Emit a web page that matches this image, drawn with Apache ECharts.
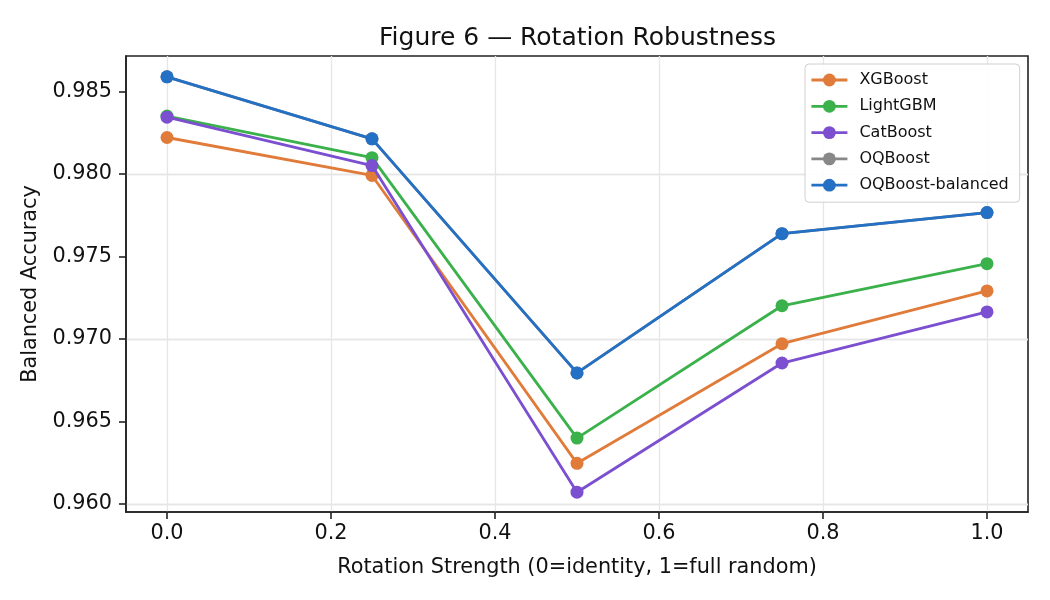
<!DOCTYPE html>
<html>
<head>
<meta charset="utf-8">
<script src="https://cdn.jsdelivr.net/npm/echarts@6/dist/echarts.min.js"></script>
<style>html,body{margin:0;padding:0;background:#fff}#c{width:1050px;height:600px}</style>
</head>
<body>
<div id="c"></div>
<script>
const xValues = [0.0, 0.25, 0.5, 0.75, 1.0];
const seriesNames = ['XGBoost', 'LightGBM', 'CatBoost', 'OQBoost', 'OQBoost-balanced'];
const xgboost = [0.98220, 0.97990, 0.96245, 0.96970, 0.97290];
const lightgbm = [0.98350, 0.98098, 0.96398, 0.97200, 0.97455];
const catboost = [0.98343, 0.98050, 0.96070, 0.96853, 0.97163];
const oqboost = [0.98588, 0.98212, 0.96793, 0.97637, 0.97765];
const oqboostBalanced = [0.98588, 0.98212, 0.96793, 0.97637, 0.97765];
const xTicks = [0.0, 0.2, 0.4, 0.6, 0.8, 1.0];
const yTicks = [0.960, 0.965, 0.970, 0.975, 0.980, 0.985];

const colors = ['#e07b39', '#3bb14b', '#7b4fcf', '#888888', '#2370c4'];
const allData = [xgboost, lightgbm, catboost, oqboost, oqboostBalanced];
const FONT = 'DejaVu Sans';

const series = allData.map((vals, i) => ({
  name: seriesNames[i],
  type: 'line',
  data: xValues.map((x, j) => [x, vals[j]]),
  symbol: 'circle',
  symbolSize: 13,
  lineStyle: { width: 2.8, color: colors[i] },
  itemStyle: { color: colors[i] },
  emphasis: { disabled: true },
  z: 3 + i
}));

// grid lines (drawn behind the data)
series.unshift({
  type: 'line',
  data: [],
  silent: true,
  z: 0,
  markLine: {
    silent: true,
    z: 0,
    symbol: ['none', 'none'],
    label: { show: false },
    lineStyle: { color: '#e6e6e6', width: 1.3, type: 'solid' },
    emphasis: { disabled: true },
    data: xTicks.map(v => ({ xAxis: v })).concat(yTicks.map(v => ({ yAxis: v })))
  }
});

const chart = echarts.init(document.getElementById('c'), null, { renderer: 'canvas' });
chart.setOption({
  animation: false,
  backgroundColor: '#ffffff',
  color: colors,
  title: {
    text: 'Figure 6 — Rotation Robustness',
    left: 374,
    top: 21,
    textStyle: { fontFamily: FONT, fontSize: 25, fontWeight: 'normal', color: '#111' }
  },
  grid: {
    left: 126, right: 22, top: 56, bottom: 88,
    show: true, borderColor: '#222', borderWidth: 1.6, backgroundColor: 'transparent'
  },
  legend: {
    data: seriesNames,
    orient: 'vertical',
    left: 805,
    top: 64,
    itemWidth: 36,
    itemHeight: 16,
    itemGap: 10.3,
    padding: [8, 11, 9, 5],
    borderColor: '#d0d0d0',
    borderWidth: 1,
    borderRadius: 4,
    backgroundColor: 'rgba(255,255,255,0.85)',
    lineStyle: { width: 2.8 },
    textStyle: { fontFamily: FONT, fontSize: 16, color: '#111', padding: [0, 0, 0, 7] },
    z: 20
  },
  xAxis: {
    type: 'value',
    min: -0.05,
    max: 1.05,
    name: 'Rotation Strength (0=identity, 1=full random)',
    nameLocation: 'middle',
    nameGap: 45,
    nameTextStyle: { fontFamily: FONT, fontSize: 20.8, color: '#111' },
    axisLine: { show: true, onZero: false, lineStyle: { color: '#222', width: 1.6 } },
    axisTick: { show: true, length: 7, lineStyle: { color: '#222', width: 1.6 }, customValues: xTicks },
    axisLabel: { fontFamily: FONT, fontSize: 20.8, color: '#111', margin: 11, customValues: xTicks,
      formatter: v => v.toFixed(1) },
    splitLine: { show: false }
  },
  yAxis: {
    type: 'value',
    min: 0.9595,
    max: 0.98714,
    name: 'Balanced Accuracy',
    nameLocation: 'middle',
    nameGap: 82,
    nameRotate: 90,
    nameTextStyle: { fontFamily: FONT, fontSize: 20.8, color: '#111' },
    axisLine: { show: true, onZero: false, lineStyle: { color: '#222', width: 1.6 } },
    axisTick: { show: true, length: 7, lineStyle: { color: '#222', width: 1.6 }, customValues: yTicks },
    axisLabel: { fontFamily: FONT, fontSize: 20.8, color: '#111', margin: 14, customValues: yTicks,
      formatter: v => v.toFixed(3) },
    splitLine: { show: false }
  },
  series: series
});
</script>
</body>
</html>
